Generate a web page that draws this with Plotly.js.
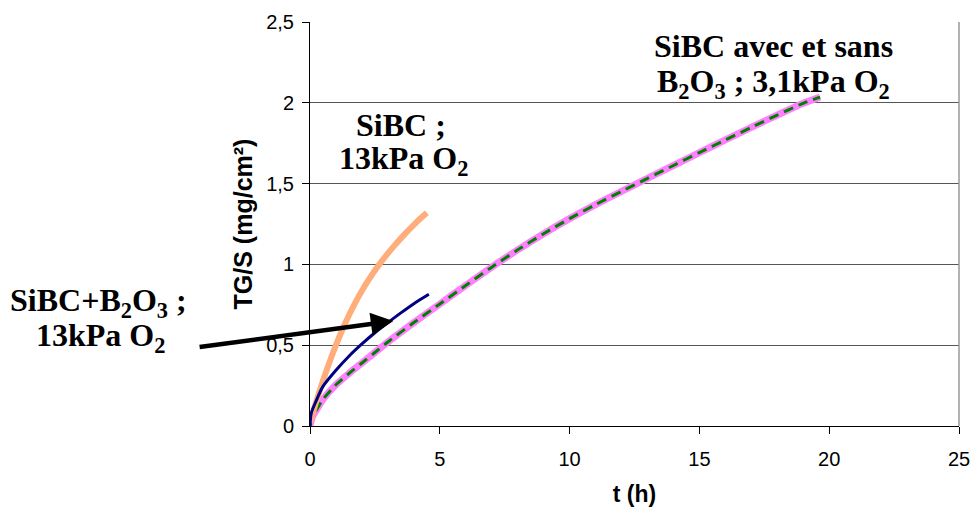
<!DOCTYPE html>
<html>
<head>
<meta charset="utf-8">
<script src="https://cdn.plot.ly/plotly-3.0.1.min.js"></script>
<style>html,body{margin:0;padding:0;background:#fff;}#chart{width:973px;height:510px;}</style>
</head>
<body>
<div id="chart"></div>
<script>
// SiBC ; 13kPa O2
var tSiBC13 = [0, 0.25, 0.5, 0.75, 1.0, 1.25, 1.5, 1.75, 2.0, 2.25, 2.5, 2.75, 3.0, 3.25, 3.5, 3.75, 4.0, 4.25, 4.5];
var ySiBC13 = [0.02, 0.155, 0.28, 0.395, 0.5, 0.597, 0.685, 0.765, 0.837, 0.902, 0.962, 1.017, 1.068, 1.116, 1.161, 1.204, 1.245, 1.284, 1.32];
// SiBC+B2O3 ; 13kPa O2
var tSiBCB13 = [0, 0.05, 0.25, 0.5, 1.0, 1.5, 2.0, 2.5, 3.0, 3.5, 4.0, 4.58];
var ySiBCB13 = [0, 0.08, 0.16, 0.245, 0.345, 0.432, 0.508, 0.577, 0.64, 0.7, 0.757, 0.815];
// SiBC sans B2O3 ; 3,1kPa O2
var tSans31 = [0, 0.1, 0.25, 0.5, 1, 1.5, 2, 2.5, 3, 4, 5, 6, 7, 8, 9, 10, 11, 12, 13, 14, 15, 16, 17, 18, 19, 19.65];
var ySans31 = [0, 0.06, 0.1, 0.165, 0.255, 0.325, 0.39, 0.455, 0.52, 0.64, 0.755, 0.87, 0.983, 1.09, 1.19, 1.283, 1.37, 1.452, 1.532, 1.612, 1.692, 1.77, 1.848, 1.924, 1.997, 2.035];
// SiBC avec B2O3 ; 3,1kPa O2
var tAvec31 = [0, 0.1, 0.25, 0.5, 1, 1.5, 2, 2.5, 3, 4, 5, 6, 7, 8, 9, 10, 11, 12, 13, 14, 15, 16, 17, 18, 19, 19.65];
var yAvec31 = [0, 0.06, 0.1, 0.165, 0.255, 0.325, 0.39, 0.455, 0.52, 0.64, 0.755, 0.87, 0.983, 1.09, 1.19, 1.283, 1.37, 1.452, 1.532, 1.612, 1.692, 1.77, 1.848, 1.924, 1.997, 2.035];

var xTicks = [0, 5, 10, 15, 20, 25];
var xTickText = ['0', '5', '10', '15', '20', '25'];
var yTicks = [0, 0.5, 1, 1.5, 2, 2.5];
var yTickText = ['0', '0,5', '1', '1,5', '2', '2,5'];

var traces = [
  {x: tSans31, y: ySans31, mode: 'lines', line: {color: '#FF80FF', width: 7, shape: 'spline', smoothing: 0.8}, name: 'SiBC sans B2O3 3,1kPa'},
  {x: tAvec31, y: yAvec31, mode: 'lines', line: {color: '#008000', width: 3, dash: '10px,6px', shape: 'spline', smoothing: 0.8}, name: 'SiBC avec B2O3 3,1kPa'},
  {x: tSiBC13, y: ySiBC13, mode: 'lines', line: {color: '#FFAD7A', width: 6, shape: 'spline', smoothing: 0.8}, name: 'SiBC 13kPa'},
  {x: tSiBCB13, y: ySiBCB13, mode: 'lines', line: {color: '#000080', width: 3, shape: 'spline', smoothing: 0.8}, name: 'SiBC+B2O3 13kPa'}
];

var serif = {family: 'Liberation Serif, Times New Roman, serif', size: 32, color: '#000'};

var layout = {
  width: 973, height: 510,
  margin: {l: 310, r: 14, t: 22, b: 84, pad: 0},
  paper_bgcolor: '#fff', plot_bgcolor: '#fff',
  separators: ', ',
  showlegend: false,
  font: {family: 'Liberation Sans, Arial, sans-serif', size: 20, color: '#000'},
  xaxis: {
    range: [0, 25], tickvals: xTicks, ticktext: xTickText,
    showgrid: false, zeroline: false, showline: true, linecolor: '#000', linewidth: 1,
    ticks: 'outside', ticklen: 7, tickcolor: '#000', ticklabelstandoff: 8,
    tickfont: {size: 20},
    title: {text: '<b>t (h)</b>', font: {size: 23}, standoff: 16}
  },
  yaxis: {
    range: [0, 2.5], tickvals: yTicks, ticktext: yTickText,
    showgrid: true, gridcolor: '#555', gridwidth: 1, zeroline: false,
    showline: true, linecolor: '#000', linewidth: 1,
    ticks: 'outside', ticklen: 7, tickcolor: '#000', ticklabelstandoff: 4,
    tickfont: {size: 20},
    title: {text: '<b>TG/S (mg/cm²)</b>', font: {size: 25}, standoff: 6}
  },
  shapes: [
    {type: 'line', xref: 'paper', yref: 'paper', x0: 1, x1: 1, y0: 0, y1: 1, line: {color: '#999', width: 1.5}}
  ],
  annotations: [
    {x: 3.5, y: 1.86, xref: 'x', yref: 'y', text: '<b>SiBC ;</b>', showarrow: false, font: serif, xanchor: 'center', yanchor: 'middle'},
    {x: 3.6, y: 1.64, xref: 'x', yref: 'y', text: '<b>13kPa O<sub>2</sub></b>', showarrow: false, font: serif, xanchor: 'center', yanchor: 'middle'},
    {x: 17.84, y: 2.35, xref: 'x', yref: 'y', text: '<b>SiBC avec et sans</b>', showarrow: false, font: serif, xanchor: 'center', yanchor: 'middle'},
    {x: 17.84, y: 2.12, xref: 'x', yref: 'y', text: '<b>B<sub>2</sub>O<sub>3</sub> ; 3,1kPa O<sub>2</sub></b>', showarrow: false, font: serif, xanchor: 'center', yanchor: 'middle'},
    {x: -0.326, y: 0.765, xref: 'paper', yref: 'y', text: '<b>SiBC+B<sub>2</sub>O<sub>3</sub> ;</b>', showarrow: false, font: serif, xanchor: 'center', yanchor: 'middle'},
    {x: -0.323, y: 0.55, xref: 'paper', yref: 'y', text: '<b>13kPa O<sub>2</sub></b>', showarrow: false, font: serif, xanchor: 'center', yanchor: 'middle'},
    {x: 3.21, y: 0.65, xref: 'x', yref: 'y', axref: 'x', ayref: 'y', ax: -4.31, ay: 0.487, text: '', showarrow: true,
     arrowhead: 2, arrowsize: 1, arrowwidth: 4.5, arrowcolor: '#000', standoff: 0, startstandoff: 0}
  ]
};

Plotly.newPlot('chart', traces, layout, {staticPlot: true, displayModeBar: false});
</script>
</body>
</html>
